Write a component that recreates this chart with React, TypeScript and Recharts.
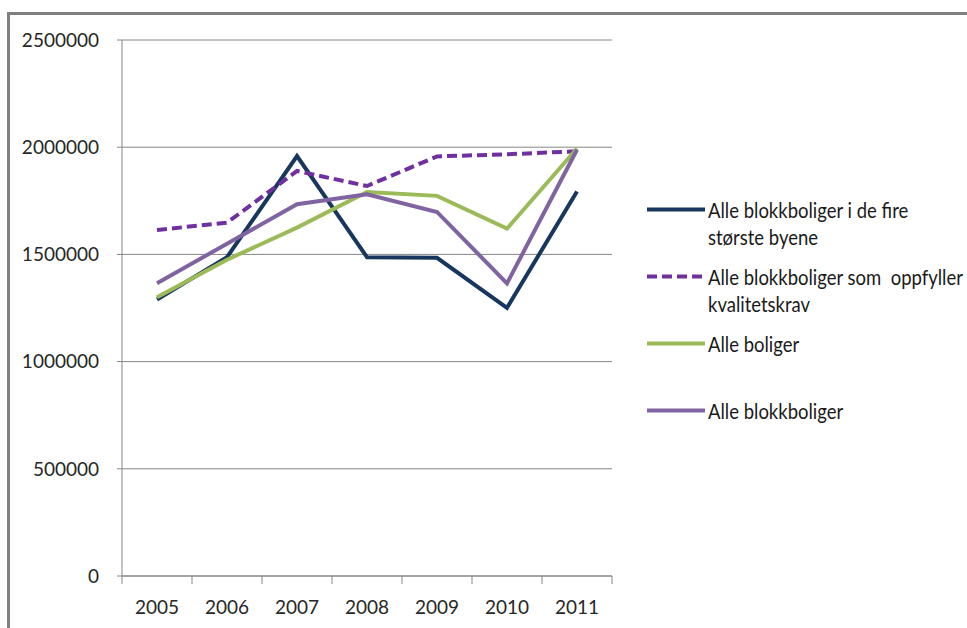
import { LineChart, Line, XAxis, YAxis, CartesianGrid, Legend } from 'recharts';

const years = ['2005', '2006', '2007', '2008', '2009', '2010', '2011'];
const storsteByene = [1290000, 1487000, 1959000, 1487000, 1484000, 1251000, 1793000];
const kvalitetskrav = [1614000, 1648000, 1889000, 1819000, 1957000, 1967000, 1981000];
const alleBoliger = [1300000, 1475000, 1625000, 1791000, 1773000, 1620000, 1994000];
const alleBlokkboliger = [1365000, 1550000, 1734000, 1780000, 1698000, 1365000, 1988000];
const yTicks = [0, 500000, 1000000, 1500000, 2000000, 2500000];
// grenser mellom kategoriene (Excel-stil tick-merker)
const categoryEdges = [0, 1, 2, 3, 4, 5, 6, 7];

const series = [
  { key: 'storste', name: 'Alle blokkboliger i de fire største byene', lines: ['Alle blokkboliger i de fire', 'største byene'], color: '#17375E', dash: undefined },
  { key: 'kvalitet', name: 'Alle blokkboliger som oppfyller kvalitetskrav', lines: ['Alle blokkboliger som  oppfyller', 'kvalitetskrav'], color: '#7030A0', dash: '10 5' },
  { key: 'alle', name: 'Alle boliger', lines: ['Alle boliger'], color: '#9BBB59', dash: undefined },
  { key: 'blokk', name: 'Alle blokkboliger', lines: ['Alle blokkboliger'], color: '#8064A2', dash: undefined },
];

const data = years.map((year, i) => ({
  year,
  pos: i + 0.5, // midt i kategorien, brukes bare av tick-aksen
  storste: storsteByene[i],
  kvalitet: kvalitetskrav[i],
  alle: alleBoliger[i],
  blokk: alleBlokkboliger[i],
}));

const axisColor = '#868686';
const tickFont = { fontSize: 19, fill: '#262626', fontFamily: 'Lato, "Open Sans", sans-serif' };

function LegendBox() {
  return (
    <div style={{ fontFamily: 'Lato, "Liberation Sans", sans-serif', fontSize: 21, color: '#1a1a1a' }}>
      {series.map((s) => (
        <div key={s.key} style={{ display: 'flex', height: 67, alignItems: 'flex-start' }}>
          <svg width={68} height={27} style={{ flex: 'none' }}>
            <line x1={7} x2={65} y1={13.5} y2={13.5} stroke={s.color} strokeWidth={4} strokeDasharray={s.dash} />
          </svg>
          <div style={{ lineHeight: '27px', whiteSpace: 'pre', transform: 'scaleX(0.88)', transformOrigin: 'left center' }}>
            {s.lines.map((l) => (
              <div key={l}>{l}</div>
            ))}
          </div>
        </div>
      ))}
    </div>
  );
}

export default function App() {
  return (
    <div style={{ position: 'absolute', left: 0, top: 0, width: 967, height: 628, background: '#fff', overflow: 'hidden' }}>
      {/* ramme */}
      <div
        style={{
          position: 'absolute',
          left: 7,
          top: 12,
          width: 960,
          height: 616,
          borderTop: '3px solid #808080',
          borderLeft: '3px solid #808080',
        }}
      />
      <div style={{ position: 'absolute', left: 0, top: 0 }}>
        <LineChart width={967} height={628} data={data} margin={{ top: 40, right: 355, bottom: 0, left: 0 }}>
          <CartesianGrid horizontal vertical={false} stroke={axisColor} strokeWidth={1} />
          <XAxis
            xAxisId="a"
            type="number"
            dataKey="pos"
            domain={[0, 7]}
            ticks={categoryEdges}
            height={1}
            stroke={axisColor}
            tickSize={8}
            tickFormatter={() => ''}
            allowDataOverflow
          />
          <XAxis
            xAxisId="b"
            dataKey="year"
            height={51}
            axisLine={false}
            tickLine={false}
            tickSize={0}
            tickMargin={24}
            tick={tickFont}
            interval={0}
            padding={{ left: 35, right: 35 }}
          />
          <YAxis
            domain={[0, 2500000]}
            ticks={yTicks}
            width={122}
            stroke={axisColor}
            tickSize={5}
            tickMargin={18}
            tick={tickFont}
            interval={0}
          />
          {series.map((s) => (
            <Line
              key={s.key}
              xAxisId="b"
              type="linear"
              dataKey={s.key}
              name={s.name}
              stroke={s.color}
              strokeWidth={4}
              strokeDasharray={s.dash}
              dot={false}
              activeDot={false}
              isAnimationActive={false}
            />
          ))}
          <Legend
            layout="vertical"
            align="center"
            verticalAlign="middle"
            content={() => <LegendBox />}
            wrapperStyle={{ left: 640, top: 196, width: 320 }}
          />
        </LineChart>
      </div>
    </div>
  );
}
